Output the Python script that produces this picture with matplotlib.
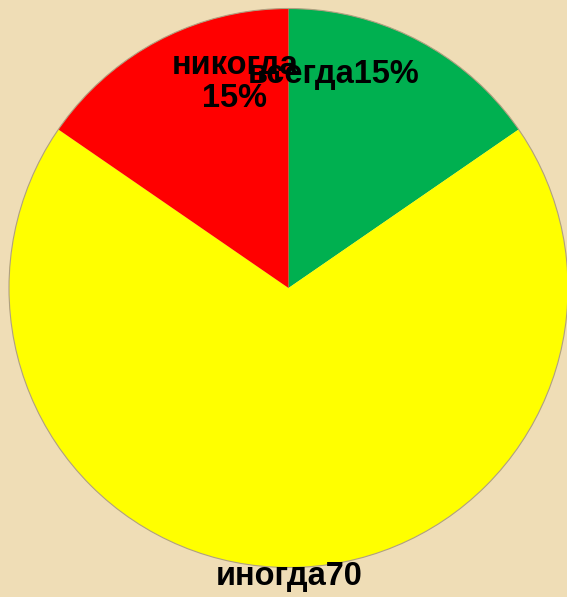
import matplotlib.pyplot as plt
from matplotlib.patches import Circle

plt.rcParams['font.family'] = ['Liberation Sans', 'DejaVu Sans']

labels = ['всегда', 'иногда', 'никогда']
values = [15.4, 69.2, 15.4]   # shares
cols = ['#00B050', '#FFFF00', '#FF0000']
label_texts = ['всегда15%', 'иногда70', 'никогда\n15%']

W, H = 567, 597
fig = plt.figure(figsize=(W / 100., H / 100.), dpi=100)
fig.patch.set_facecolor('#EFDDB6')
ax = fig.add_axes([0, 0, 1, 1])

cx, cy, r = 288.5, H - 288, 279.5
ax.pie(values, colors=cols, startangle=90, counterclock=False,
       center=(cx, cy), radius=r, frame=True,
       wedgeprops=dict(linewidth=0))
ax.add_patch(Circle((cx, cy), r, fill=False, edgecolor='#b0a080', linewidth=0.8))
ax.set_xlim(0, W)
ax.set_ylim(0, H)
ax.set_aspect('equal')
ax.axis('off')

# labels
fs = 23.5
ax.text(235, H - 107, label_texts[2], ha='center', va='baseline', fontsize=fs,
        fontweight='bold', linespacing=1.1, multialignment='center')
ax.text(334, H - 83, label_texts[0], ha='center', va='baseline', fontsize=fs,
        fontweight='bold')
ax.text(289, H - 585, label_texts[1], ha='center', va='baseline', fontsize=fs,
        fontweight='bold')

plt.savefig('out.png', dpi=100, facecolor=fig.get_facecolor())
